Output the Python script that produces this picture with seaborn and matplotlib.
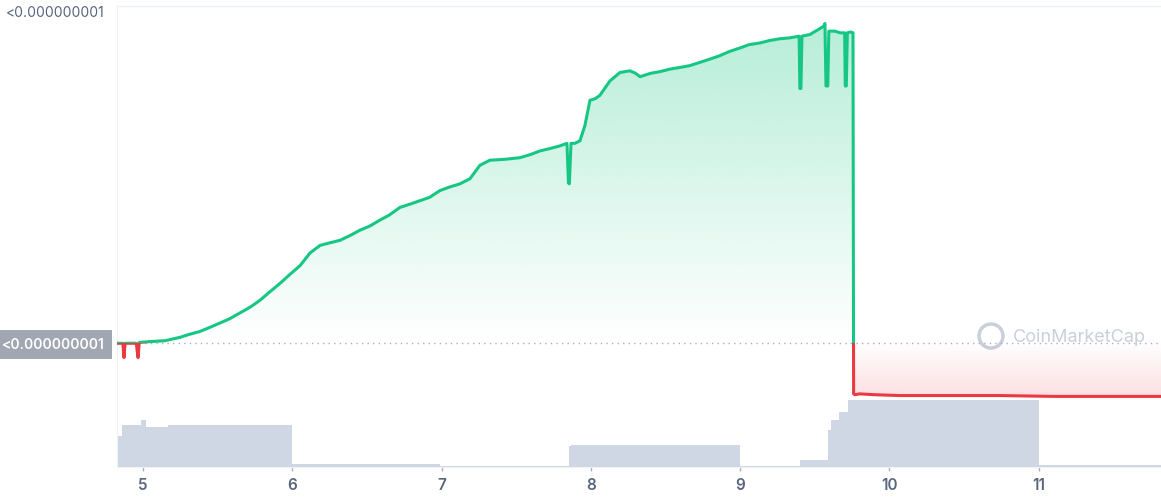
import numpy as np
import pandas as pd
import matplotlib
matplotlib.use('Agg')
import matplotlib.pyplot as plt
import seaborn as sns
from matplotlib.patches import Rectangle, Ellipse

# price (x1e-10) against day of month
days = [4.826, 4.865, 4.873, 4.880, 4.955, 4.967, 4.975, 5.05, 5.147, 5.248, 5.30, 5.382, 5.45,
        5.516, 5.58, 5.650, 5.72, 5.784, 5.85, 5.918, 5.98, 6.052, 6.119, 6.186, 6.25, 6.319,
        6.39, 6.453, 6.52, 6.587, 6.65, 6.721, 6.79, 6.855, 6.92, 6.989, 7.05, 7.123, 7.19,
        7.257, 7.324, 7.42, 7.525, 7.60, 7.659, 7.73, 7.793, 7.840, 7.850, 7.856, 7.867,
        7.893, 7.927, 7.960, 7.994, 8.03, 8.061, 8.10, 8.128, 8.195, 8.262, 8.30, 8.329,
        8.40, 8.463, 8.53, 8.597, 8.66, 8.731, 8.80, 8.865, 8.93, 8.998, 9.06, 9.132, 9.20,
        9.266, 9.33, 9.395, 9.400, 9.407, 9.414, 9.467, 9.534, 9.560, 9.568, 9.575, 9.587,
        9.594, 9.635, 9.67, 9.700, 9.704, 9.711, 9.718, 9.740, 9.756, 9.760, 9.769, 9.80,
        9.90, 10.07, 10.40, 10.74, 11.10, 11.41, 11.819]
price = [5.00, 5.00, 4.83, 5.00, 5.00, 4.83, 5.01, 5.02, 5.03, 5.07, 5.10, 5.14, 5.19,
         5.24, 5.29, 5.36, 5.43, 5.51, 5.61, 5.71, 5.81, 5.92, 6.07, 6.16, 6.19, 6.22,
         6.28, 6.34, 6.39, 6.46, 6.52, 6.61, 6.65, 6.69, 6.73, 6.81, 6.85, 6.89, 6.95,
         7.11, 7.17, 7.18, 7.20, 7.24, 7.28, 7.31, 7.34, 7.37, 6.90, 6.89, 7.37,
         7.37, 7.40, 7.58, 7.88, 7.90, 7.94, 8.04, 8.11, 8.21, 8.23, 8.20, 8.16,
         8.20, 8.22, 8.25, 8.27, 8.29, 8.33, 8.37, 8.41, 8.46, 8.50, 8.54, 8.56, 8.59,
         8.61, 8.62, 8.64, 8.02, 8.02, 8.64, 8.66, 8.73, 8.76, 8.79, 8.05, 8.05,
         8.70, 8.70, 8.68, 8.68, 8.05, 8.05, 8.68, 8.69, 8.68, 4.40, 4.39, 4.40,
         4.39, 4.38, 4.38, 4.38, 4.37, 4.37, 4.37]

# volume (relative units) as steps
vol_days = [4.826, 4.860, 4.987, 5.02, 5.17, 6.00, 6.99, 7.855, 7.87, 9.00, 9.40, 9.59, 9.61,
            9.66, 9.72, 11.00, 11.819]
volume = [31, 42, 47, 40, 42, 3, 1, 21, 22, 1, 7, 37, 47, 55, 67, 2, 2]

x_ticks = [5, 6, 7, 8, 9, 10, 11]
base = 5.0
y_top = 9.0
label = '<0.000000001'

green = '#16c784'
red = '#ea3943'
txt = '#58667e'

df = pd.DataFrame({'day': days, 'price': price})

sns.set_style('white')
plt.rcParams['font.family'] = ['Inter', 'DejaVu Sans']

fig = plt.figure(figsize=(11.61, 5.0), dpi=100)
ax = fig.add_axes([117 / 1161, 33 / 500, 1 - 117 / 1161, 462 / 500])
xmin, xmax = days[0], days[-1]
ymin = 3.533

# volume on its own scale, behind the price
axv = ax.twinx()
axv.fill_between(vol_days, volume, step='post', color='#cfd6e4', lw=0)
axv.set_ylim(0, 462)
axv.set_yticks([])
for s in axv.spines.values():
    s.set_visible(False)
ax.set_zorder(axv.get_zorder() + 1)
ax.patch.set_visible(False)

# gradient fills clipped to the area between line and base
poly = ax.fill_between(days, price, base, color='none', lw=0)
clip = poly.get_paths()[0]
g = np.zeros((200, 2, 4))
g[..., :3] = matplotlib.colors.to_rgb(green)
g[..., 3] = np.linspace(0.33, 0.0, 200)[:, None]
im = ax.imshow(g, extent=[xmin, xmax, base, y_top], aspect='auto', origin='upper', zorder=1)
im.set_clip_path(clip, ax.transData)
r = np.zeros((200, 2, 4))
r[..., :3] = matplotlib.colors.to_rgb(red)
r[..., 3] = np.linspace(0.0, 0.16, 200)[:, None]
im2 = ax.imshow(r, extent=[xmin, xmax, 4.37, base], aspect='auto', origin='upper', zorder=1)
im2.set_clip_path(clip, ax.transData)

# price line, green above base and red below
sns.lineplot(data=df, x='day', y='price', ax=ax, color=green, lw=2.2, zorder=3)
sns.lineplot(data=df, x='day', y='price', ax=ax, color=red, lw=2.2, zorder=3)
lines = ax.get_lines()
up = Rectangle((xmin, base), xmax - xmin, 10, transform=ax.transData)
dn = Rectangle((xmin, 0), xmax - xmin, base, transform=ax.transData)
lines[0].set_clip_path(up)
lines[1].set_clip_path(dn)

ax.axhline(base, color='#a6b0c3', lw=1, ls=(0, (1, 3)), zorder=2)
ax.axhline(y_top, color='#eff2f5', lw=1, zorder=0)

ax.set_xlim(xmin, xmax)
ax.set_ylim(ymin, y_top + 0.01)
ax.set_xticks(x_ticks)
ax.set_xticklabels([str(t) for t in x_ticks])
ax.tick_params(axis='x', colors='#a6b0c3', labelcolor=txt, labelsize=11, length=3, width=1,
               direction='out', bottom=True, pad=5)
for t in ax.get_xticklabels():
    t.set_fontweight('semibold')
ax.set_yticks([base, y_top])
ax.set_yticklabels([label, label])
ax.tick_params(axis='y', length=0, pad=9, labelsize=10, labelcolor=txt)
ylabs = ax.get_yticklabels()
ylabs[0].set_color('white')
ylabs[0].set_fontweight('semibold')
ylabs[0].set_bbox(dict(boxstyle='square,pad=0.55', fc='#a0a7b3', ec='none'))
ylabs[1].set_va('top')
ax.set_xlabel('')
ax.set_ylabel('')
for k, s in ax.spines.items():
    s.set_visible(k in ('left', 'bottom'))
    s.set_color('#eff2f5')

# watermark
fig.text(1013 / 1161, 1 - 337 / 500, 'CoinMarketCap', color='#c9cfdb', fontsize=13,
         va='center', ha='left')
fig.add_artist(Ellipse((991 / 1161, 1 - 336 / 500), 24 / 1161, 24 / 500,
                       transform=fig.transFigure, fill=False, ec='#c9cfdb', lw=2.5))

fig.savefig('out.png', dpi=100)
